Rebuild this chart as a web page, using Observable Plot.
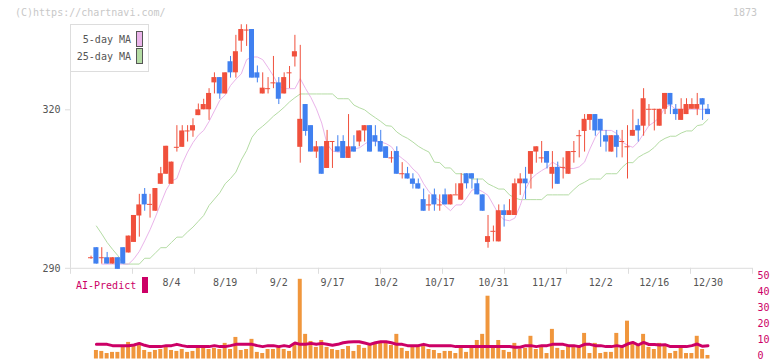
<!DOCTYPE html>
<html><head><meta charset="utf-8">
<script src="https://cdn.jsdelivr.net/npm/d3@7"></script>
<script src="https://cdn.jsdelivr.net/npm/@observablehq/plot@0.6"></script>
<style>
body{margin:0;background:#fff;}
#wrap{position:relative;width:772px;height:361px;font-family:"DejaVu Sans Mono",monospace;font-size:10px;overflow:hidden;}
#wrap svg{position:absolute;left:0;top:0;}
.t{position:absolute;line-height:10px;white-space:nowrap;}
#legend{position:absolute;left:70px;top:24px;width:77px;height:46px;border:1px solid #ddd;background:#fff;z-index:5;}
.sw{position:absolute;left:65px;width:5px;height:14px;border:1px solid #555;}
</style></head><body><div id="wrap"></div>
<script>
const dates = ["7/11","7/14","7/15","7/16","7/17","7/18","7/22","7/23","7/24","7/25","7/28","7/29","7/30","7/31","8/1",
"8/4","8/5","8/6","8/7","8/8","8/12","8/13","8/14","8/15","8/18","8/19","8/20","8/21","8/22","8/25","8/26","8/27","8/28","8/29",
"9/1","9/2","9/3","9/4","9/5","9/8","9/9","9/10","9/11","9/12","9/16","9/17","9/18","9/19","9/22","9/24","9/25","9/26","9/29","9/30",
"10/1","10/2","10/3","10/6","10/7","10/8","10/9","10/10","10/14","10/15","10/16","10/17","10/20","10/21","10/22","10/23","10/24","10/27","10/28","10/29","10/30","10/31",
"11/4","11/5","11/6","11/7","11/10","11/11","11/12","11/13","11/14","11/17","11/18","11/19","11/20","11/21","11/25","11/26","11/27","11/28",
"12/1","12/2","12/3","12/4","12/5","12/8","12/9","12/10","12/11","12/12","12/15","12/16","12/17","12/18","12/19","12/22","12/23","12/24","12/25","12/26","12/29","12/30"];

const open = [292,293.9,292,292,290.8,292,293.9,292.9,294.9,299.9,304,302.1,300.8,305.9,307.8,
305.9,312.9,312.9,316,316,318.9,320,320,325.1,326.1,323,329.1,327,333,335.1,335.2,327,323,324,325.1,
325.1,323,327,330,312.9,321,317,312,313,308.9,314,313,314,310.8,313,313.9,316,317,315.1,314,
313,310.9,312.1,307.9,307.9,306.9,306,303,302,303.9,302,303.9,302,303.9,302.9,307.9,307.9,306,303.9,294.9,
297,295,300.9,300,300,306,306.9,307.8,312,310.9,312.1,307.8,309.1,309.1,307.8,312.1,315.1,315.9,318,319.1,
318.2,315.1,312,315.1,314,313,315,317,316.9,320.1,320.1,316.9,320.1,323.1,320.1,318,319.1,320.1,320.1,322.1,320.1];
const high = [292.3,293.9,293.9,293,292,292,293.9,296.1,300,304,305.1,304,305.1,309.1,313.1,
310.1,317,317,317,318.3,321.1,322,324,327,326.1,327,330.1,334.1,336.1,336.1,335.2,328.3,327,326.1,330.1,
326.1,327,328.2,334.1,332.2,321,317,314,313,316.1,314,315.1,315.1,319.1,315.1,316,317,317,317,316.1,
313,312.1,313,310,309.1,307.9,306.9,305,303.9,305,303.9,305,303.9,306,307.9,307.9,307.9,306.9,303.9,300,
298,302,302,303,306.9,307.9,309.1,312.1,313,314,312.1,312.1,310.1,310.9,312.1,314,316.1,319.1,319.1,319.1,
318.2,316.1,315.1,316.1,316.1,317,320,318.2,324,321,320.1,320.1,323.1,323.1,321,322.1,322.1,322.1,323.1,322.1,321];
const low = [291.7,290.8,290.8,290.8,290.8,289.8,290.8,292.9,294.9,295.9,300.8,299.5,300.8,305.9,307.8,
305.9,312,312.9,313.9,314.8,318.9,320,318,323,322,323,326,326,330.9,332,326,325.1,323,323,324,
321,323,324,328.1,309.9,315,312,310.8,307.8,308.9,308.9,312,310.8,310.8,312,313,313.9,312,313,312,
310.8,309.9,307.8,306.9,306.9,305,305,300.8,300.8,300.8,300.8,302,302,303.9,302.9,305,305,303.9,300.8,293.8,
295,295,297.8,300,300,303.8,303,305,309.9,309.9,308.8,305,305.9,306.9,307.8,309.9,310.9,312,316.1,315,
312.9,312,312,310.9,310.9,306.9,315,313.9,315,316.9,316,316.9,319.1,319.1,318,318,319.1,320.1,318.9,318,319.1];
const close = [292,290.8,292,290.8,292,289.8,290.8,296.1,300,302,302,302.1,305.1,307.9,313.1,
310.1,312.9,316,316,317,320,321,323.1,326.1,323,327,327,331,335.2,335.1,326,326,324.1,324,325.1,
322,326.1,327,331,318.2,315.9,312,313,307.8,314,314,312,310.8,313,312,316,317,312,313.9,312,
310.8,310.9,307.8,307.9,306.9,305.9,305,300.8,302,302,302,302,303.9,303.9,306,306,306.9,303.9,300.8,296,
297,300.9,300,300.9,306,306.9,306,312.1,313,310.9,309.9,309.1,305.9,309.1,312.1,312.1,315.1,318.2,319.1,316,
316,313.9,315.1,312.9,314,313,316.1,316,322.1,320.1,320.1,320.1,323.1,320.9,319.1,320.1,321,321,321,320.9,319.1];

const ma5 = [null,null,290.8,290.8,290.8,290.8,290.8,290.8,291.8,293.2,295.2,297.3,299.7,302.3,304.8,
306.5,307,309.8,312,313.8,315.2,316.1,317.8,319.8,321.8,322.8,324.6,325.8,326.8,329.5,330,330,329.5,328,326.4,
324.5,324,324,324,325.9,324,322.3,320.2,317.5,313.5,312.2,312,312,312,312.6,312.8,313.5,314.2,314,313.9,
313.6,313,311.6,310.8,310,308.8,307.9,306,304.5,303.5,302.8,301.8,300.9,302,302,303.3,304.8,305,304.5,303.8,
302,300.2,299.2,299,299.5,301.9,305,306.9,307.8,308.5,309.1,310.1,309.5,308.9,308.9,308.9,309.2,310.1,312.6,314.8,
316.1,316.1,316.1,315.5,313.9,313.3,312.9,313.9,315.5,317,317.7,318.6,320.5,320.9,320.1,320.1,320.1,320.1,320.1,320.1,320.1];
const ma25 = [null,298,296.5,294.9,293.6,292.4,290.8,290.8,290.8,290.8,291.9,291.9,292.9,293.9,293.9,
294.9,295.9,295.9,296.9,297.8,298.9,300,301.9,303.1,304.3,306,307,308.2,310.5,312.3,314.8,316.1,316.9,317.8,318.8,
319.6,320.5,321.5,322.3,323,323,323,323,323,323,323,322.1,322.1,322.1,320.9,320.4,320,319.2,318.5,317.8,
317,316.9,315.8,315.1,314.6,313.9,313.1,312.5,312,310.1,310,309,309,307.9,307.9,307.5,306.9,306.9,306.9,306,
305.5,305,305,303.9,303.3,303,303,303,303,303,303.9,303.9,303.9,303.9,303.9,304.9,305.8,306.3,306.9,306.9,
306.9,307.9,307.9,307.9,309.1,310,310,311,311.6,312.1,312.9,314,314.6,315,315,315.6,316,316,317,317.2,318.2];

const volume = [null,5.3,4.7,3.4,4.1,4.1,7.2,10.3,8.4,9.1,5.3,4.1,5.3,5.9,7.2,
5.3,4.7,5.9,4.1,4.7,7.2,7.2,5.9,6.6,5.9,9.7,5.9,13.4,5.3,5.9,12.2,4.1,3.4,5.9,5.9,
7.2,5.9,4.7,9.1,49.5,15.3,10.9,7.2,11.5,7.2,5.9,5.3,5.9,7.8,4.7,8.4,6.6,8.4,9.7,10.9,
10.9,8.4,15.3,6.6,4.7,7.8,7.8,9.1,5.9,5.3,3.4,4.7,4.7,3.4,7.2,4.1,7.2,11.5,15.3,39,
7.8,11.5,5.3,4.1,9.7,5.9,6.6,14.1,5.9,7.2,3.4,18.4,6.6,5.3,7.8,7.8,7.8,15.9,3.4,9.7,
3.4,4.1,4.1,15.9,7.2,23.5,9.7,8.4,15.3,7.2,5.9,9.7,8.4,3.4,4.7,6.6,3.4,3.4,14.1,5.9,2.2];
const aiPredict = [null,9.1,9.1,9.1,8.3,8.3,8.3,8.3,8.7,9.7,8.5,7.7,7.7,7.7,8.3,
8.3,9.1,8.3,7.7,7.7,7.7,7.7,7.7,8.3,7.7,7.7,8.3,9.1,9.1,9.1,9.1,8.3,7.7,8.3,8.3,
7.7,8.3,7.7,9.9,9.1,9.1,9.7,9.1,9.7,9.1,8.5,9.1,10.1,10.5,10.7,10.7,9.9,9.1,10.1,10.7,
10.7,10.1,9.1,9.1,8.3,8.3,8.3,9.1,8.3,8.3,8.3,8.3,8.3,7.7,7.7,7.7,7.7,7.7,7.7,7.7,
7.7,7.7,7.7,7.7,7.3,7.3,8.3,8.3,7.7,8.3,8.3,9.1,9.1,9.1,8.3,8.3,7.7,9.1,9.1,8.3,
8.3,7.7,7.7,8.3,7.7,9.3,10.3,8.7,10.3,9.0,9.0,8.7,8.9,7.7,7.7,7.7,7.7,8.3,9.3,7.9,8.3];

const tickLabels = ["8/4","8/19","9/2","9/17","10/2","10/17","10/31","11/17","12/2","12/16","12/30"];
const priceTicks = [290, 320];
const volumeTicks = [0, 10, 20, 30, 40, 50];

const RED = "#f0503c", BLUE = "#4080f0";
const rows = dates.map((d, k) => ({k, d, o: open[k], h: high[k], l: low[k], c: close[k],
  m5: ma5[k], m25: ma25[k], v: volume[k], ai: aiPredict[k]}));
const col = d => d.c >= d.o ? RED : BLUE;
const half = 0.47;
const xDomain = [-3.83, 123.3];
const frameTicks = d3.range(12).map(j => xDomain[0] + j * (xDomain[1] - xDomain[0]) / 11);
const labelIdx = tickLabels.map(t => dates.indexOf(t));
const font = {background: "transparent", fontFamily: "'DejaVu Sans Mono', monospace", fontSize: "10px", overflow: "visible"};

const main = Plot.plot({
  width: 772, height: 361, marginLeft: 70, marginRight: 20, marginTop: 24, marginBottom: 93.2,
  x: {domain: xDomain, axis: null},
  y: {domain: [290, 336.15], axis: null},
  color: {type: "identity"},
  style: font,
  marks: [
    Plot.ruleX([xDomain[0]], {stroke: "#ddd"}),
    Plot.ruleY([290], {stroke: "#ddd"}),
    Plot.axisX({ticks: frameTicks, tickSize: 6, tickFormat: () => "", stroke: "#ddd", label: null}),
    Plot.axisX({ticks: labelIdx, tickSize: 0, tickPadding: 11, tickFormat: k => dates[k], fill: "#555", label: null}),
    Plot.axisY({ticks: priceTicks, anchor: "left", tickSize: 5, tickPadding: 5, stroke: "#ddd", fill: "#555", label: null}),
    Plot.line(rows, {x: "k", y: "m25", stroke: "#b4dca4", strokeWidth: 1}),
    Plot.line(rows, {x: "k", y: "m5", stroke: "#eab4ea", strokeWidth: 1}),
    Plot.ruleX(rows, {x: "k", y1: "l", y2: "h", stroke: col}),
    Plot.rect(rows.filter(d => d.o !== d.c), {x1: d => d.k - half, x2: d => d.k + half,
      y1: d => Math.min(d.o, d.c), y2: d => Math.max(d.o, d.c), fill: col}),
    Plot.ruleY(rows.filter(d => d.o === d.c), {y: "c", x1: d => d.k - half, x2: d => d.k + half, stroke: col})
  ]
});

const vol = Plot.plot({
  width: 772, height: 361, marginLeft: 70, marginRight: 20, marginTop: 278, marginBottom: 2.5,
  x: {domain: xDomain, axis: null},
  y: {domain: [0, 50], axis: null},
  style: font,
  marks: [
    Plot.rectY(rows.filter(d => d.v != null), {x1: d => d.k - 0.37, x2: d => d.k + 0.37, y: "v", fill: "#f0963c"}),
    Plot.line(rows, {x: "k", y: "ai", stroke: "#cc0066", strokeWidth: 3}),
    Plot.axisY({ticks: volumeTicks, anchor: "right", tickSize: 0, tickPadding: 5, dy: -3, fill: "#cc0066", label: null})
  ]
});

const wrap = document.getElementById("wrap");
wrap.appendChild(main);
wrap.appendChild(vol);
wrap.insertAdjacentHTML("beforeend", `
<div class="t" style="left:15px;top:8px;color:#c8c8c8">(C)https://chartnavi.com/</div>
<div class="t" style="right:15px;top:8px;color:#c8c8c8">1873</div>
<div id="legend">
  <div class="t" style="right:17px;top:10px;color:#555">5-day MA</div>
  <div class="sw" style="top:6px;background:#eab4ea"></div>
  <div class="t" style="right:17px;top:27px;color:#555">25-day MA</div>
  <div class="sw" style="top:23px;background:#b4dca4"></div>
</div>
<div class="t" style="left:76px;top:281px;color:#cc0066">AI-Predict</div>
<div style="position:absolute;left:142px;top:277px;width:6px;height:16px;background:#cc0066"></div>
`);
</script></body></html>
